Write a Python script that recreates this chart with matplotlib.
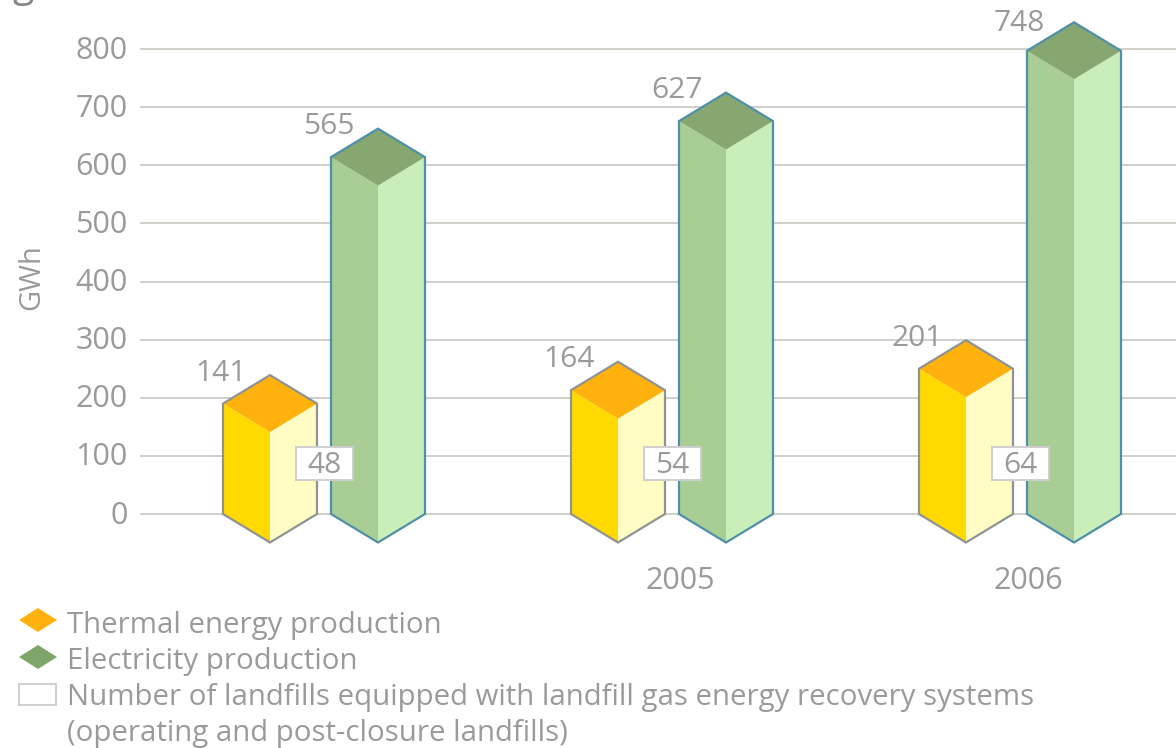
import matplotlib
matplotlib.use('Agg')
import matplotlib.pyplot as plt
from matplotlib.patches import Polygon, Rectangle
from matplotlib.transforms import ScaledTranslation

plt.rcParams['font.family'] = ['Open Sans', 'DejaVu Sans']

years = ['', '2005', '2006']
thermal = [141, 164, 201]
electricity = [565, 627, 748]
landfills = [48, 54, 64]
y_ticks = [0, 100, 200, 300, 400, 500, 600, 700, 800]
legend_labels = ['Thermal energy production', 'Electricity production',
                 'Number of landfills equipped with landfill gas energy recovery systems',
                 '(operating and post-closure landfills)']

TEXT = '#9a9a9a'
W, H = 1176, 748
GROUP = 348.0      # px between the groups
half_w = 47 / GROUP
offset = 54 / GROUP
depth = 49         # fake 3d depth in y units
PX = 0.72          # points per pixel at dpi 100

fig = plt.figure(figsize=(W / 100, H / 100), dpi=100)
ax = fig.add_axes([140 / W, (H - 560) / H, (W - 140) / W, 560 / H])
ax.set_xlim((140 - 324) / GROUP, (W - 324) / GROUP)
ax.set_ylim(-46 / 0.5812, 514 / 0.5812)
for s in ax.spines.values():
    s.set_visible(False)
ax.set_yticks(y_ticks)
ax.tick_params(axis='y', length=0, pad=9, labelsize=22, labelcolor=TEXT)
ax.grid(axis='y', color='#cfcfca', linewidth=1.4)
ax.set_axisbelow(True)
# tick numbers sit a little above their lines
for lab in ax.get_yticklabels():
    lab.set_transform(lab.get_transform() + ScaledTranslation(0, 2 / 100, fig.dpi_scale_trans))
ax.set_xticks([i + 8 / GROUP for i in range(len(years))])
ax.set_xticklabels(years, fontsize=22, color=TEXT)
ax.tick_params(axis='x', length=0, pad=4)
ax.set_ylabel('GWh', fontsize=21, color=TEXT)
ax.yaxis.set_label_coords((46 - 140) / (W - 140), (560 - 277) / 560)


def draw_bar(x, v, left, right, top, edge):
    faces = [
        ([(x - half_w, v + depth), (x, v), (x, -depth), (x - half_w, 0)], left),
        ([(x, v), (x + half_w, v + depth), (x + half_w, 0), (x, -depth)], right),
        ([(x - half_w, v + depth), (x, v), (x + half_w, v + depth), (x, v + 2 * depth)], top),
    ]
    for pts, col in faces:
        ax.add_patch(Polygon(pts, closed=True, facecolor=col, edgecolor='none', zorder=3, clip_on=False))
    outline = [(x - half_w, v + depth), (x, v + 2 * depth), (x + half_w, v + depth),
               (x + half_w, 0), (x, -depth), (x - half_w, 0)]
    ax.add_patch(Polygon(outline, closed=True, fill=False, edgecolor=edge, linewidth=1.6, zorder=4, clip_on=False))


def value_label(x, v, dx=-49, dy=59):
    ax.annotate(str(v), xy=(x, v), xytext=(dx * PX, dy * PX), textcoords='offset points',
                ha='center', va='center', fontsize=21.5, color=TEXT, zorder=6, annotation_clip=False)


for i in range(len(years)):
    draw_bar(i - offset, thermal[i], '#ffd900', '#fffdc4', '#ffb20e', '#8f9492')
    draw_bar(i + offset, electricity[i], '#a9ce95', '#c9eeb9', '#86a870', '#4f8fa8')
    value_label(i - offset, thermal[i])
    if i == 2:
        # last label sits closer in the original, it would leave the page otherwise
        value_label(i + offset, electricity[i], dx=-55, dy=56)
    else:
        value_label(i + offset, electricity[i])
    box_w = 57 / GROUP
    ax.add_patch(Rectangle((i - box_w / 2, 87 - 28.5), box_w, 57, facecolor='white',
                           edgecolor='#cfcfcf', linewidth=1.4, zorder=6))
    ax.text(i, 84, str(landfills[i]), ha='center', va='center', fontsize=21.5, color=TEXT, zorder=7)

# legend, laid out in pixels
lg = fig.add_axes([0, 0, 1, 1])
lg.set_xlim(0, W)
lg.set_ylim(H, 0)
lg.axis('off')
lg.patch.set_alpha(0)
lg.add_patch(Polygon([(19, 620), (38, 608), (57, 620), (38, 632)], facecolor='#ffb20e', edgecolor='none'))
lg.add_patch(Polygon([(19, 657), (38, 645), (57, 657), (38, 669)], facecolor='#7fa56b', edgecolor='none'))
lg.add_patch(Rectangle((19, 684), 37, 21, facecolor='white', edgecolor='#cccccc', linewidth=1.3))
for label, y in zip(legend_labels, [625, 661, 697, 733]):
    lg.text(67, y, label, ha='left', va='center', fontsize=21.2, color=TEXT)

# bottom of the cut-off title letter at the top edge, cut in the reference too
lg.text(12, -3, 'g', ha='left', va='baseline', fontsize=28, color='#858585')

fig.savefig('out.png', dpi=100)
